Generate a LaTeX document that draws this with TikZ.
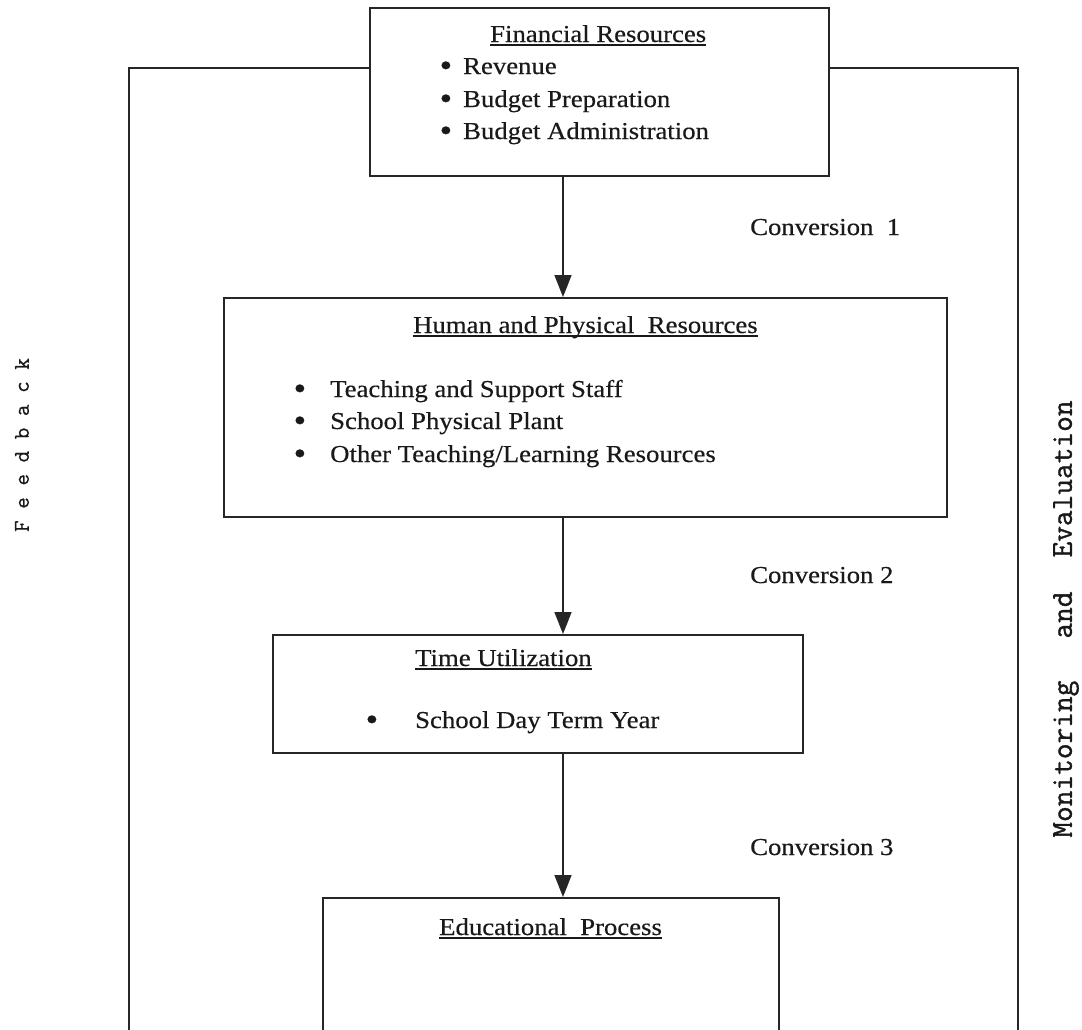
\documentclass[tikz,border=0pt]{standalone}
\usepackage{fontspec}
\setmainfont{Liberation Serif}[FakeStretch=1.1,FakeBold=0.4]
\newfontfamily\courfont{Latin Modern Mono}[FakeBold=1.2]
\newfontfamily\courlight{Latin Modern Mono}[FakeBold=0.6]
\usetikzlibrary{arrows.meta}
\newcommand\myul[1]{\setbox0\hbox{#1}\rlap{\rule[-3.5pt]{\wd0}{1.2pt}}\box0}
\newcommand\bul{\raisebox{-2.2pt}{\scalebox{1.35}{\textbullet}}}
\begin{document}
\begin{tikzpicture}[x=1pt,y=-1pt,
  box/.style={draw=black!85, line width=1.6pt, anchor=north west, inner sep=0pt},
  txt/.style={anchor=base west, inner sep=0pt, font=\fontsize{24.3}{30}\selectfont, text=black!90},
  frame/.style={draw=black!85, line width=1.6pt},
  arr/.style={draw=black!85, line width=1.6pt, -{Triangle[length=22pt,width=17pt]}},
  side/.style={inner sep=0pt, rotate=90, text=black!90}]
\clip (0,0) rectangle (1082,1029);
\fill[white] (0,0) rectangle (1082,1029);
% boxes
\node[box, minimum width=459pt, minimum height=168pt] (b1) at (369,7) {};
\node[box, minimum width=723pt, minimum height=219pt] (b2) at (223,297) {};
\node[box, minimum width=530pt, minimum height=118pt] (b3) at (272,634) {};
\node[box, minimum width=456pt, minimum height=150pt] (b4) at (322,897) {};
% frame
\coordinate (fl) at (129,68);
\coordinate (fr) at (1018,68);
\coordinate (fbot) at (0,1040);
\draw[frame] (b1.west |- fl) -- (fl) -- (fl |- fbot);
\draw[frame] (b1.east |- fr) -- (fr) -- (fr |- fbot);
% arrows
\coordinate (ax) at (563,0);
\draw[arr] (b1.south -| ax) -- (b2.north -| ax);
\draw[arr] (b2.south -| ax) -- (b3.north -| ax);
\draw[arr] (b3.south -| ax) -- (b4.north -| ax);
% box 1 text
\node[txt] (t1) at (490,42) {\myul{Financial Resources}};
\node[txt] (t1a) at (463,74) {\llap{\bul\hspace{11pt}}Revenue};
\node[txt] (t1b) at (463,107) {\llap{\bul\hspace{11pt}}Budget Preparation};
\node[txt] (t1c) at (463,139) {\llap{\bul\hspace{11pt}}Budget Administration};
% box 2 text
\node[txt] (t2) at (413,333) {\myul{Human and Physical\ \ Resources}};
\node[txt] (t2a) at (330,397) {\llap{\bul\hspace{24pt}}Teaching and Support Staff};
\node[txt] (t2b) at (330,429) {\llap{\bul\hspace{24pt}}School Physical Plant};
\node[txt] (t2c) at (330,462) {\llap{\bul\hspace{24pt}}Other Teaching/Learning Resources};
% box 3 text
\node[txt] (t3) at (415,666) {\myul{Time Utilization}};
\node[txt] (t3a) at (415,728) {\llap{\bul\hspace{37pt}}School Day Term Year};
% box 4 text
\node[txt] (t4) at (439,935) {\myul{Educational\ \ Process}};
% conversion labels
\node[txt] (c1) at (750,235) {Conversion\ \ 1};
\node[txt] (c2) at (750,583) {Conversion 2};
\node[txt] (c3) at (750,855) {Conversion 3};
% side labels
\node[side, font=\courlight\fontsize{22.5}{23}\selectfont] (fb) at (22,445) {F e e d b a c k};
\node[side, font=\courfont\fontsize{30.5}{31}\selectfont] (me) at (1066,619) {Monitoring\hspace{42pt}and\hspace{34pt}Evaluation};
\end{tikzpicture}
\end{document}
